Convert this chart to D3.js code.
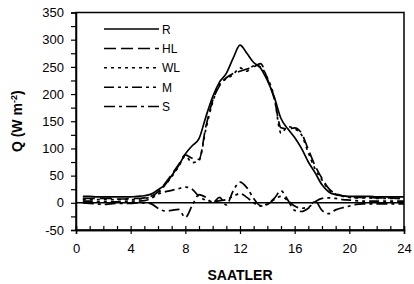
<!DOCTYPE html>
<html>
<head>
<meta charset="utf-8">
<script src="https://cdn.jsdelivr.net/npm/d3@7"></script>
<style>
  body { margin: 0; background: #fff; }
  svg { display: block; font-family: "Liberation Sans", Arial, sans-serif; }
</style>
</head>
<body>
<svg id="chart" width="414" height="284"></svg>
<script>
// half-hourly values
var hours = [0.5,1,1.5,2,2.5,3,3.5,4,4.5,5,5.5,6,6.5,7,7.5,8,8.5,9,9.5,10,10.5,11,11.5,12,
  12.5,13,13.5,14,14.5,15,15.5,16,16.5,17,17.5,18,18.5,19,19.5,20,20.5,21,21.5,22,22.5,23,23.5,24];

var R  = [12,12,11,11,11,11,11,11,12,13,16,24,33,50,68,90,105,118,158,195,222,238,266,290,
  275,258,248,225,195,155,136,120,100,75,55,33,20,15,13,12,12,12,12,11,11,11,11,11];
var HL = [8,8,8,8,8,7,7,8,8,9,12,20,35,52,70,88,82,80,140,188,215,230,238,242,
  246,250,256,228,192,138,136,138,128,98,68,45,26,17,13,11,10,10,10,9,9,9,8,8];
var WL = [6,6,6,6,6,6,6,6,7,8,11,18,32,48,66,86,74,78,135,185,218,228,236,248,
  242,252,250,230,195,128,140,136,125,92,62,42,24,16,12,10,9,9,9,8,8,8,8,8];
var M  = [3,3,2,2,2,2,2,3,3,4,8,16,20,23,26,29,25,12,5,2,4,6,12,17,
  10,0,-6,-3,6,12,4,-6,-10,-8,2,8,9,8,6,5,4,3,3,3,3,3,3,3];
var S  = [0,-1,-2,-3,-2,-1,-1,-1,0,0,-2,-10,-15,-14,-12,-27,-5,15,10,0,10,-4,22,38,
  28,8,-5,-2,8,22,5,-14,-16,-10,3,-14,-20,-13,-9,-6,-3,-2,-2,-2,-2,-2,-2,-2];

var seriesNames = ["R", "HL", "WL", "M", "S"];
var seriesValues = [R, HL, WL, M, S];
var dashes = ["none", "12,5", "3,4", "10,4,3,4,3,4", "11,4,3,4"];

var xTicks = [0, 4, 8, 12, 16, 20, 24];
var yTicks = [-50, 0, 50, 100, 150, 200, 250, 300, 350];

var svg = d3.select("#chart");
var margin = {top: 12.5, right: 10, bottom: 54, left: 76};
var width = 414 - margin.left - margin.right;
var height = 284 - margin.top - margin.bottom;

var g = svg.append("g").attr("transform", `translate(${margin.left},${margin.top})`);

var x = d3.scaleLinear().domain([0, 24]).range([0, width]);
var y = d3.scaleLinear().domain([-50, 350]).range([height, 0]);

// frame
g.append("rect")
  .attr("width", width).attr("height", height)
  .attr("fill", "none").attr("stroke", "#000").attr("stroke-width", 1.5);

// y axis: ticks every 25, labels every 50
var yAxis = g.append("g")
  .call(d3.axisLeft(y).tickValues(d3.range(-50, 351, 25))
    .tickSize(5).tickPadding(7)
    .tickFormat(d => yTicks.indexOf(d) >= 0 ? d : ""));

// x axis: minor hourly ticks inside, major every 4h crossing
var xMinor = g.append("g").attr("transform", `translate(0,${height})`)
  .call(d3.axisBottom(x).tickValues(d3.range(0, 25, 1)).tickSize(-4).tickFormat(""));
var xMajor = g.append("g").attr("transform", `translate(0,${height})`)
  .call(d3.axisBottom(x).tickValues(xTicks).tickSize(4).tickPadding(10));

[yAxis, xMinor, xMajor].forEach(function(a){
  a.select(".domain").attr("stroke", "#000").attr("stroke-width", 1.5);
  a.selectAll(".tick line").attr("stroke", "#000").attr("stroke-width", 1.2);
  a.selectAll(".tick text").attr("fill", "#000").style("font-size", "13px")
    .style("font-family", "Liberation Sans, Arial, sans-serif");
});
xMajor.selectAll(".tick text").attr("dy", "0.71em");

// zero line
g.append("line")
  .attr("x1", 0).attr("x2", width)
  .attr("y1", y(0)).attr("y2", y(0))
  .attr("stroke", "#000").attr("stroke-width", 1.6);

// series
var line = d3.line()
  .x((d, i) => x(hours[i]))
  .y(d => y(d))
  .curve(d3.curveMonotoneX);

seriesValues.forEach(function(vals, k){
  g.append("path")
    .datum(vals)
    .attr("d", line)
    .attr("fill", "none")
    .attr("stroke", "#000")
    .attr("stroke-width", 1.7)
    .attr("stroke-dasharray", dashes[k]);
});

// legend
var legend = g.append("g").attr("transform", "translate(28,16.5)");
seriesNames.forEach(function(name, k){
  var row = legend.append("g").attr("transform", `translate(0,${k * 19.4})`);
  row.append("line")
    .attr("x1", 0).attr("x2", 55).attr("y1", 0).attr("y2", 0)
    .attr("stroke", "#000").attr("stroke-width", 1.5)
    .attr("stroke-dasharray", dashes[k]);
  row.append("text")
    .attr("x", 58).attr("y", 4.5)
    .style("font-size", "12px")
    .text(name);
});

// axis titles
svg.append("text")
  .attr("x", margin.left + width / 2).attr("y", 280)
  .attr("text-anchor", "middle")
  .style("font-size", "14px").style("font-weight", "bold")
  .text("SAATLER");

var yTitle = svg.append("text")
  .attr("transform", `translate(22,${margin.top + height / 2}) rotate(-90)`)
  .attr("text-anchor", "middle")
  .style("font-size", "14px").style("font-weight", "bold");
yTitle.append("tspan").text("Q (W m");
yTitle.append("tspan").attr("dy", -5).style("font-size", "9px").text("-2");
yTitle.append("tspan").attr("dy", 5).text(")");
</script>
</body>
</html>
